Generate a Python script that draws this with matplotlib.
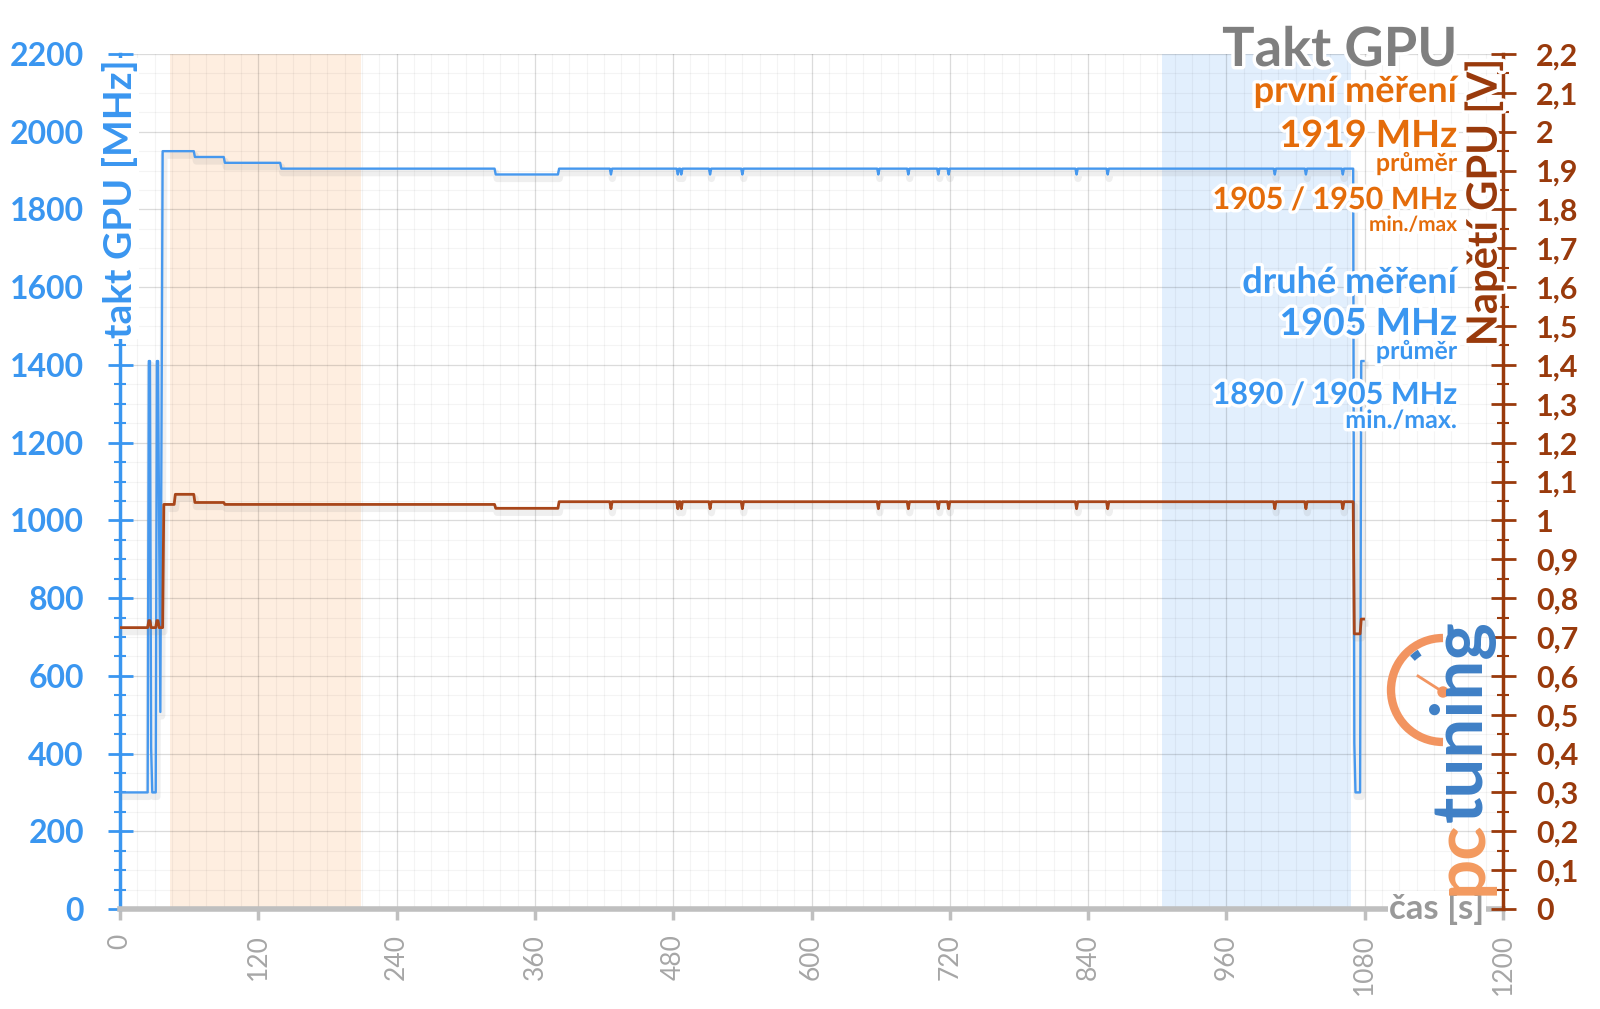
import matplotlib
matplotlib.use("Agg")
import matplotlib.pyplot as plt
import matplotlib.patheffects as pe
from matplotlib.patches import Arc, Circle
from matplotlib.ticker import MultipleLocator, FuncFormatter
import numpy as np

plt.rcParams["font.family"] = ["Lato", "DejaVu Sans"]
plt.rcParams["font.weight"] = "bold"

BLUE = "#3A96F0"
BLUE_LINE = "#4698EE"
BROWN = "#993A0C"
BROWN_LINE = "#A8461A"
ORANGE = "#E46C0A"
GRAY = "#7F7F7F"
AXIS_GRAY = "#BFBFBF"

# --- data --------------------------------------------------------------
# GPU clock [MHz], breakpoints (time in s)
clock_t = [0, 24, 25, 26, 27, 28, 31, 32, 33, 35, 37, 64, 65, 90, 91,
           139, 140, 325, 326, 380, 381, 1070, 1071, 1072, 1076, 1077, 1079]
clock_mhz = [300, 300, 1410, 1410, 415, 300, 300, 1410, 1410, 507, 1950, 1950,
             1935, 1935, 1920, 1920, 1905, 1905, 1890, 1890, 1905, 1905, 427,
             300, 300, 1410, 1410]

# GPU voltage [V]
volt_t = [0, 24, 25, 26, 27, 31, 32, 33, 34, 37, 38, 47, 48, 64, 65, 90, 91,
          325, 326, 380, 381, 1070, 1071, 1076, 1077, 1079]
volt_v = [0.724, 0.724, 0.742, 0.742, 0.724, 0.724, 0.742, 0.742, 0.724,
          0.724, 1.041, 1.041, 1.067, 1.067, 1.046, 1.046, 1.041, 1.041,
          1.031, 1.031, 1.048, 1.048, 0.708, 0.708, 0.746, 0.746]

# short one-sample drops during the steady part
dip_t = [426, 484, 487, 512, 540, 658, 684, 710, 719, 830, 857, 1002, 1029, 1061]
clock_steady, clock_dip = 1905, 1890
volt_steady, volt_dip = 1.048, 1.030

first_run_s = (43, 209)
second_run_s = (904, 1068)


def add_dips(t, y, dips, base, low):
    pts = list(zip(t, y))
    for d in dips:
        pts += [(d - 1, base), (d, low), (d + 1, base)]
    pts.sort(key=lambda p: p[0])
    return np.array(pts).T


ct, cm = add_dips(clock_t, clock_mhz, dip_t, clock_steady, clock_dip)
vt, vv = add_dips(volt_t, volt_v, dip_t, volt_steady, volt_dip)

W, H = 1600, 1009
fig = plt.figure(figsize=(16, 10.09), dpi=100)
ax = fig.add_axes([120 / W, 100 / H, 1383 / W, 855 / H])

ax.axvspan(*first_run_s, color="#FEEEE0", lw=0, zorder=0.2)
ax.axvspan(*second_run_s, color="#E2EFFD", lw=0, zorder=0.2)
ax.set_axisbelow(True)

shadow = [pe.SimpleLineShadow(offset=(1, -3), shadow_color="#808080", alpha=0.12, linewidth=5),
          pe.Normal()]
ax.plot(ct, cm, color=BLUE_LINE, lw=1.7, zorder=3, path_effects=shadow)

ax.set_xlim(0, 1200)
ax.set_ylim(0, 2200)
ax.xaxis.set_minor_locator(MultipleLocator(15))
ax.yaxis.set_major_locator(MultipleLocator(200))
ax.yaxis.set_minor_locator(MultipleLocator(50))
xt = list(range(0, 1201, 120))
ax.set_xticks(xt, labels=[str(v) for v in xt], rotation=90, fontsize=19,
              color="#A6A6A6", fontweight="normal")

ax.tick_params(axis="x", which="major", direction="out", length=8, width=2.5,
               color=AXIS_GRAY, pad=10)
ax.tick_params(axis="x", which="minor", length=0)
ax.tick_params(axis="y", which="major", direction="inout", length=18, width=2,
               color=BLUE, labelcolor=BLUE, labelsize=23, pad=17)
ax.tick_params(axis="y", which="minor", direction="inout", length=8, width=1.5,
               color=BLUE)
ax.grid(which="major", color="black", alpha=0.14, lw=0.9)
ax.grid(which="minor", color="black", alpha=0.045, lw=0.8)
for s in ("top", "right"):
    ax.spines[s].set_visible(False)
ax.spines["left"].set_color(BLUE)
ax.spines["left"].set_linewidth(2.5)
ax.spines["bottom"].set_color(AXIS_GRAY)
ax.spines["bottom"].set_linewidth(4)

ax.text(0.0, 0.994, "takt GPU [MHz]", transform=ax.transAxes, rotation=90,
        ha="center", va="top", color=BLUE, fontsize=28, zorder=6,
        bbox=dict(fc="white", ec="none", pad=0.5))

# voltage axis
ax2 = ax.twinx()
ax2.plot(vt, vv, color=BROWN_LINE, lw=2.0, zorder=3, path_effects=shadow)
ax2.set_ylim(0, 2.2)
ax2.yaxis.set_major_locator(MultipleLocator(0.1))
ax2.yaxis.set_minor_locator(MultipleLocator(0.05))
ax2.yaxis.set_major_formatter(
    FuncFormatter(lambda v, p: f"{v:.1f}".rstrip("0").rstrip(".").replace(".", ",")))
ax2.tick_params(axis="y", which="major", direction="inout", length=18, width=2,
                color=BROWN, labelcolor=BROWN, labelsize=22, pad=15)
ax2.tick_params(axis="y", which="minor", direction="inout", length=8, width=1.5,
                color=BROWN)
for s in ("top", "left", "bottom"):
    ax2.spines[s].set_visible(False)
ax2.spines["right"].set_color(BROWN)
ax2.spines["right"].set_linewidth(2.5)

glow = [pe.withStroke(linewidth=5, foreground="white")]
ax2.text(0.986, 0.994, "Napětí GPU [V]", transform=ax2.transAxes, rotation=90,
         ha="center", va="top", color=BROWN, fontsize=30, zorder=6, path_effects=glow)
ax2.text(1184, 0, "čas [s]", ha="right", va="center", color="#999999",
         fontsize=25, zorder=6, clip_on=False,
         bbox=dict(fc="white", ec="none", pad=1))

# title and summary texts (right aligned)
fig.text(1457 / W, 1 - 66 / H, "Takt GPU", ha="right", va="baseline",
         color=GRAY, fontsize=39, path_effects=glow)
notes = [
    ("první měření", 102, 26, ORANGE),
    ("1919 MHz", 147, 27, ORANGE),
    ("průměr", 171, 18, ORANGE),
    ("1905 / 1950 MHz", 209, 22, ORANGE),
    ("min./max", 231, 15, ORANGE),
    ("druhé měření", 293, 26, BLUE),
    ("1905 MHz", 335, 27, BLUE),
    ("průměr", 359, 18, BLUE),
    ("1890 / 1905 MHz", 404, 22, BLUE),
    ("min./max.", 428, 18, BLUE),
]
for txt, y, size, col in notes:
    fig.text(1457 / W, 1 - y / H, txt, ha="right", va="baseline", color=col,
             fontsize=size, path_effects=glow, zorder=10)

# pctuning logo
lax = fig.add_axes([(1443 - 70) / W, 1 - (690 + 70) / H, 140 / W, 140 / H])
lax.set_xlim(-70, 70)
lax.set_ylim(-70, 70)
lax.set_aspect("equal")
lax.axis("off")
lax.add_patch(Arc((0, 0), 104, 104, theta1=90, theta2=270, lw=6, color="#F29460"))
lax.add_patch(Arc((0, 0), 88, 88, theta1=122, theta2=134, lw=5, color="#3F80C6"))
lax.plot([-25, 0], [14, -2], color="#F29460", lw=2)
lax.add_patch(Circle((0, -2), 5, color="#F29460"))

pc = fig.text(1482 / W, 1 - 895 / H, "pc", rotation=90, rotation_mode="anchor",
              ha="left", va="baseline", color="#F39A5F", fontsize=51)
fig.canvas.draw()
bb = pc.get_window_extent()
fig.text(1482 / W, (bb.y1 - 2) / H, "tuning", rotation=90, rotation_mode="anchor",
         ha="left", va="baseline", color="#3F80C6", fontsize=51)

fig.savefig("out.png", dpi=100)
